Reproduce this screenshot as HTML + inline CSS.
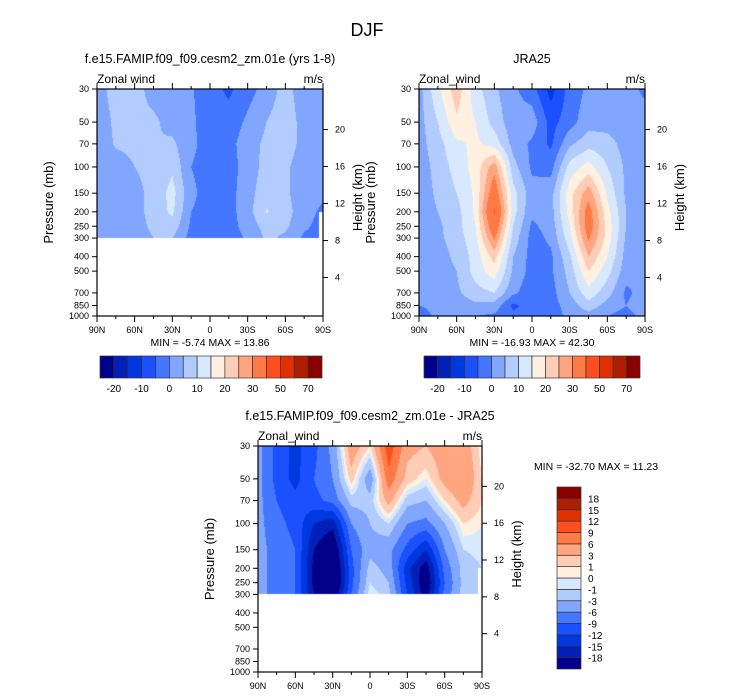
<!DOCTYPE html>
<html><head><meta charset="utf-8">
<style>
html,body{margin:0;padding:0;background:#fff;}
#root{position:relative;width:733px;height:696px;overflow:hidden;font-family:"Liberation Sans",sans-serif;}
canvas{position:absolute;}
svg{position:absolute;left:0;top:0;}
</style></head>
<body>
<div id="root">
<canvas id="c1"></canvas>
<canvas id="c2"></canvas>
<canvas id="c3"></canvas>
<svg id="s" width="733" height="696"></svg>
</div>
<script>
// ---- data ----
const lats = ["90N","75N","60N","45N","30N","15N","0","15S","30S","45S","60S","75S","90S"];
const latTickLabels = ["90N","60N","30N","0","30S","60S","90S"];
const pTicks = [30,50,70,100,150,200,250,300,400,500,700,850,1000];
const hTicks = [20,16,12,8,4];
const pLevelsTop = [30,50,70,100,150,200,250,300];
const pLevelsAll = [30,50,70,100,150,200,250,300,400,500,700,850,1000];
const colors = ["#00008a","#0020b8","#0038e0","#1a50ff","#4476ff","#80a6ff","#b3ccff","#d8e8ff","#fff0e0","#ffcdb5","#ffa57f","#ff7a45","#ff4f1f","#e03000","#b01e00","#8a0000"];
const levelsAbs = [-20,-15,-10,-5,0,5,10,15,20,25,30,40,50,60,70];
const absLabels = ["-20","-10","0","10","20","30","50","70"];
const levelsDiff = [-18,-15,-12,-9,-6,-3,-1,0,1,3,6,9,12,15,18];
const diffLabels = ["-18","-15","-12","-9","-6","-3","-1","0","1","3","6","9","12","15","18"];
const model = [
 [3,7,7,3,2,0.5,-3,-6,-2,2,7,2,1],
 [2,6,6,6,3,1,-3,-3,1,5,8,3,2],
 [2,5.5,6,5,6,1,-2,-2,3,6,8,3,2],
 [2,3,5,6,9,0,-2,-2,2,7,6,2,1],
 [2,2,4,6,12,1,-2,-2,3,8,6,2,1],
 [2,2,3,7,11,0,-2,-2,3,10.5,7,2,-1],
 [2,2,3,6,8,-1,-2,-2,2,7,6,1,-2],
 [2,2,2.5,5,5,-2,-2,-2,0.5,6,4,-1,-2]
];
const jra = [
 [3,14,23,12,6,1,-3,-12,-3,1,1,2,-1],
 [3,10,19,15,8,2,3,-7,-2,3,3,2,2],
 [3,8,14,16,13,3,-1,-6,4,8,7,3,2],
 [2,7,12,17,28,7,-1,-2,12,17,10,4,2],
 [2,6,10,16,35,12,2,3,18,28,14,4,2],
 [2,5,8,16,41,12,1,3,17,33,17,5,2],
 [2,4,8,15,36,10,-1,2,15,34,18,5,2],
 [2,4,7,14,31,8,-2,1,13,31,18,4,2],
 [2,3,6,12,22,5,-2,-1,9,25,15,3,1],
 [2,3,5,12,18,4,-2,-1,7,20,12,2,0],
 [1,2,4,8,10,1,-3,-2,5,13,7,-1,2],
 [0,1,2,4,3,-6,-3,-2,2,8,3,0,3],
 [-2,1,1,0,-1,-4,-3,-2,1,3,0,-2,2]
];
const diff = [
 [-5,-10,-13,-10,-5,5,1,11,4,3,5,5,0],
 [-5,-10,-13,-9,-6,2,-5,8,2,0,4,6,1],
 [-5,-9,-11,-10,-8,-2,-2,4,-2,-3,1,4,1],
 [-5,-8,-10,-15,-17,-6,-3,-1,-6,-7,-3,1,0],
 [-5,-7,-9,-18,-22,-9,-4,-5,-10,-15,-6,-1,-0.5],
 [-5,-7,-9,-19,-24,-10,-2,-4,-14,-20,-8,-2,-1],
 [-5,-7,-9,-19,-24,-10,-1,-3,-13,-21,-9,-2,-1],
 [-5,-7,-9,-18,-22,-9,0,-2,-12,-20,-8,-2,-1]
];

// ---- geometry ----
const NS="http://www.w3.org/2000/svg";
const svg=document.getElementById('s');
function el(tag,attrs,parent){const e=document.createElementNS(NS,tag);for(const k in attrs)e.setAttribute(k,attrs[k]);(parent||svg).appendChild(e);return e;}
function txt(x,y,s,size,anchor,parent){const t=el('text',{x:x,y:y,'font-size':size,'text-anchor':anchor||'middle',fill:'#000'},parent);t.textContent=s;return t;}

function hexToRgb(h){return [parseInt(h.substr(1,2),16),parseInt(h.substr(3,2),16),parseInt(h.substr(5,2),16)];}
const rgb=colors.map(hexToRgb);

function makeY(y0,h){const L=Math.log(1000/30);return p=>y0+h*Math.log(p/30)/L;}
function makeX(x0,w){return i=>x0+w*i/12;}

function fill(cid,x0,y0,w,h,grid,plev,levels,pmax,cutRight){
  const c=document.getElementById(cid);
  c.width=w;c.height=h;c.style.left=x0+'px';c.style.top=y0+'px';
  const ctx=c.getContext('2d');const img=ctx.createImageData(w,h);
  const L=Math.log(1000/30);const lp=plev.map(p=>Math.log(p));
  for(let py=0;py<h;py++){
    const p=30*Math.exp((py+0.5)/h*L);
    if(p>pmax)continue;
    const l=Math.log(p);let r=0;while(r<lp.length-2&&l>lp[r+1])r++;
    let fr=(l-lp[r])/(lp[r+1]-lp[r]);fr=Math.max(0,Math.min(1,fr));
    for(let px=0;px<w;px++){
      if(cutRight&&px>w-cutRight.w&&p>cutRight.p)continue;
      const fx=(px+0.5)/w*12;let ci=Math.min(11,Math.floor(fx));const fc=fx-ci;
      const v=(grid[r][ci]*(1-fc)+grid[r][ci+1]*fc)*(1-fr)+(grid[r+1][ci]*(1-fc)+grid[r+1][ci+1]*fc)*fr;
      let k=0;while(k<levels.length&&v>=levels[k])k++;
      const o=(py*w+px)*4;img.data[o]=rgb[k][0];img.data[o+1]=rgb[k][1];img.data[o+2]=rgb[k][2];img.data[o+3]=255;
    }
  }
  ctx.putImageData(img,0,0);
}

function axes(name,x0,y0,w,h,title,leftTitle){
  const g=el('g',{});
  const Y=makeY(y0,h),X=makeX(x0,w);
  el('rect',{x:x0,y:y0,width:w,height:h,fill:'none',stroke:'#000','stroke-width':1.2},g);
  txt(x0+w/2,y0-26,title,12.5,'middle',g);
  txt(x0,y0-6,leftTitle,12,'start',g);
  txt(x0+w,y0-6,'m/s',12,'end',g);
  for(let i=0;i<=12;i++){
    const x=X(i);const len=i%2==0?6:3;
    el('line',{x1:x,y1:y0+h,x2:x,y2:y0+h+len,stroke:'#000','stroke-width':1},g);
    el('line',{x1:x,y1:y0,x2:x,y2:y0-len,stroke:'#000','stroke-width':1},g);
  }
  latTickLabels.forEach((s,j)=>txt(X(j*2),y0+h+17,s,9,'middle',g));
  pTicks.forEach(p=>{const y=Y(p);el('line',{x1:x0-5,y1:y,x2:x0,y2:y,stroke:'#000'},g);txt(x0-8,y+3,String(p),9,'end',g);});
  hTicks.forEach(hk=>{const p=1000*Math.exp(-hk/7);const y=Y(p)-1.5;el('line',{x1:x0+w,y1:y,x2:x0+w+5,y2:y,stroke:'#000'},g);txt(x0+w+12,y+3,String(hk),9,'start',g);});
  const t1=txt(0,0,'Pressure (mb)',13,'middle',g);t1.setAttribute('transform',`translate(${x0-44},${y0+h/2}) rotate(-90)`);
  const t2=txt(0,0,'Height (km)',13,'middle',g);t2.setAttribute('transform',`translate(${x0+w+39},${y0+h/2-5}) rotate(-90)`);
  return g;
}

function hbar(name,x0,y0,w,h,labels){
  const g=el('g',{});
  const bw=w/colors.length;
  colors.forEach((c,i)=>{const r=el('rect',{x:x0+i*bw,y:y0,width:bw,height:h,fill:c,stroke:'#333','stroke-width':0.7},g);});
  labels.forEach((s,j)=>txt(x0+(2*j+1)*bw,y0+h+14,s,10,'middle',g));
}
function vbar(name,x0,y0,w,h,labels){
  const g=el('g',{});
  const bh=h/colors.length;
  colors.forEach((c,i)=>{const r=el('rect',{x:x0,y:y0+h-(i+1)*bh,width:w,height:bh,fill:c,stroke:'#333','stroke-width':0.7},g);});
  labels.forEach((s,j)=>txt(x0+w+7,y0+h-(j+1)*bh+4,s,10,'start',g));
}

txt(367,36,'DJF',18,'middle');

fill('c1',97,89,226,227,model,pLevelsTop,levelsAbs,300,{w:5,p:200});
axes('model-panel',97,89,226,227,'f.e15.FAMIP.f09_f09.cesm2_zm.01e (yrs 1-8)','Zonal wind');
txt(210,346,'MIN =  -5.74  MAX =  13.86',10.5,'middle');
hbar('model-colorbar',100,356,222,22,absLabels);

fill('c2',419,89,226,227,jra,pLevelsAll,levelsAbs,1000,null);
axes('jra25-panel',419,89,226,227,'JRA25','Zonal_wind');
txt(532,346,'MIN = -16.93  MAX =  42.30',10.5,'middle');
hbar('jra25-colorbar',424,356,216,22,absLabels);

fill('c3',258,446,224,226,diff,pLevelsTop,levelsDiff,300,{w:5,p:200});
axes('difference-panel',258,446,224,226,'f.e15.FAMIP.f09_f09.cesm2_zm.01e - JRA25','Zonal_wind');
txt(596,470,'MIN = -32.70  MAX =  11.23',10.5,'middle');
vbar('difference-colorbar',557,487,24,182,diffLabels);
</script>
</body></html>
